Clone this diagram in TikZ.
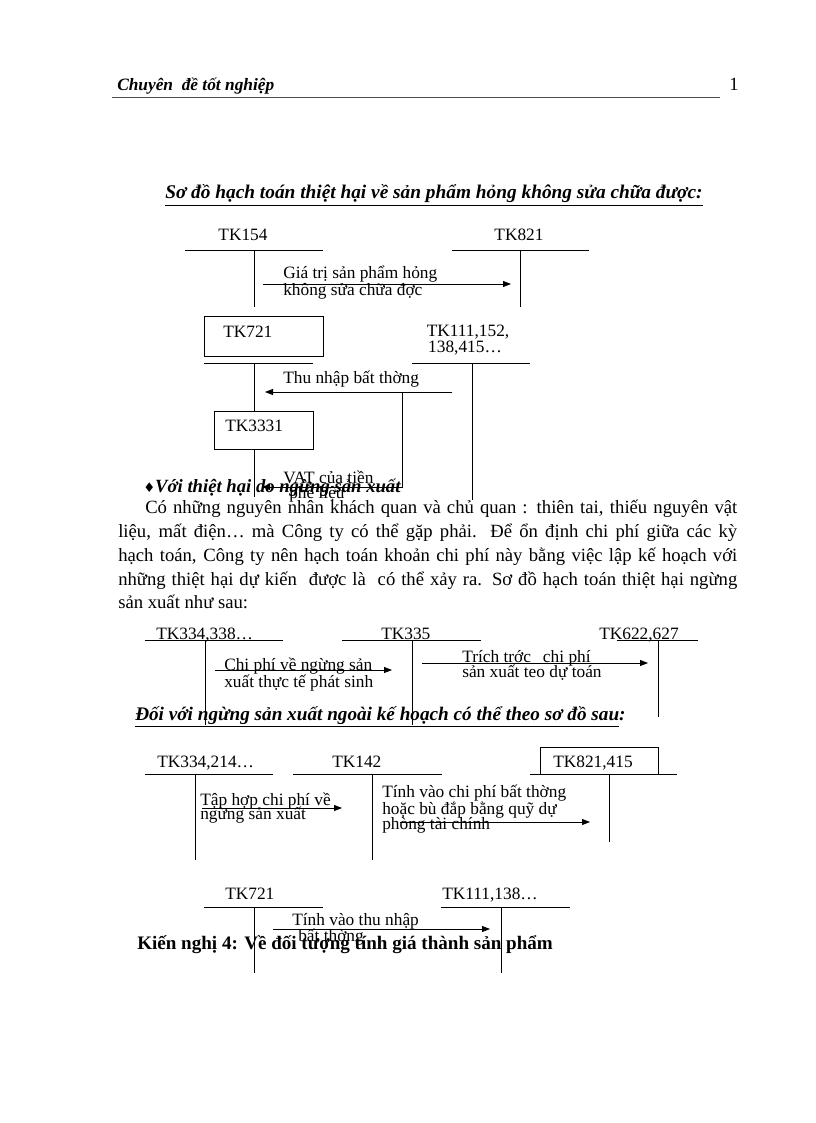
\documentclass[tikz,border=0pt]{standalone}
\usepackage{fontspec}
\setmainfont{Liberation Serif}
\newfontfamily\symfont{DejaVu Sans}
\usetikzlibrary{arrows.meta}
\tikzset{
	tk/.style={anchor=base west, inner sep=0pt, font=\fontsize{13}{13}\selectfont},
	note/.style={anchor=base west, inner sep=0pt, font=\fontsize{13}{13}\selectfont},
	body/.style={anchor=base west, inner sep=0pt, font=\fontsize{14}{18}\selectfont},
	head/.style={anchor=base west, inner sep=0pt, font=\fontsize{14}{18}\selectfont\bfseries\itshape},
	flow/.style={line width=0.6pt, -{Triangle[length=6pt, width=4.5pt]}},
	acc/.style={line width=0.6pt}
}

\begin{document}
\begin{tikzpicture}[x=0.75pt, y=-0.75pt]
			%%%%% START %%%%%
			\fill[white] (0, 0) rectangle (816, 1123);
			\useasboundingbox (0, 0) rectangle (816, 1123);
			
			% header
			\node[head, font=\fontsize{13}{16}\selectfont\bfseries\itshape] (hdr) at (117, 91) {Chuyên\ \ đề tốt nghiệp};
			\node[body, anchor=base east] (pgno) at (739, 91) {1};
			\draw[line width=0.5pt, color=black!70] (112, 97) -- (720, 97);
			
			\node[head, font=\fontsize{14.5}{18}\selectfont\bfseries\itshape] (title1) at (165, 199) {\underline{Sơ đồ hạch toán thiệt hại về sản phẩm hỏng không sửa chữa được:}};
			
			% so do 1
			\node[tk, anchor=base] (tk154) at (243, 240) {TK154};
			\draw[acc] (185, 250) -- (323, 250);
			\draw[acc] (254, 250) -- (254, 307);
			\node[tk, anchor=base] (tk821) at (519, 240) {TK821};
			\draw[acc] (452, 250) -- (589, 250);
			\draw[acc] (520, 250) -- (520, 307);
			\coordinate (hong1) at (263, 284);
			\coordinate (hong2) at (511, 284);
			\draw[flow] (hong1) -- (hong2);
			\node[note] (hongA) at (283, 278) {Giá trị sản phẩm hỏng};
			\node[note] (hongB) at (283, 295) {không sửa chữa đợc};
			
			\draw[acc] (204, 316) rectangle (323, 356);
			\node[tk] (tk721) at (223, 337) {TK721};
			\draw[acc] (204, 363) -- (313, 363);
			\draw[acc] (254, 363) -- (254, 411);
			\draw[acc] (214, 411) rectangle (313, 449);
			\node[tk] (tk3331) at (225, 431) {TK3331};
			\draw[acc] (254, 449) -- (254, 497);
			
			\node[tk, anchor=base] (tk111a) at (468, 336) {TK111,152,};
			\node[tk, anchor=base] (tk111b) at (465, 352) {138,415…};
			\draw[acc] (412, 363) -- (530, 363);
			\draw[acc] (472, 363) -- (472, 500);
			\coordinate (thu1) at (452, 392);
			\coordinate (thu2) at (265, 392);
			\draw[flow] (thu1) -- (thu2);
			\node[note] (thuA) at (283, 383) {Thu nhập bất thờng};
			\coordinate (vat1) at (402, 392);
			\coordinate (vat2) at (402, 487);
			\coordinate (vat3) at (262, 487);
			\draw[flow] (vat1) -- (vat2) -- (vat3);
			\node[note] (vatA) at (283, 483) {VAT của tiền};
			\node[note] (vatB) at (289, 498) {phế liệu};
			
			% doan van
			\node[head] (head2) at (143, 492) {{\symfont\fontsize{10}{10}\selectfont ♦}Với thiệt hại do ngừng sản xuất};
			\node[body] (par1) at (145, 513) {\makebox[444pt][s]{Có những nguyên nhân khách quan và chủ quan : thiên tai, thiếu nguyên vật}};
			\node[body] (par2) at (118, 537) {\makebox[464.25pt][s]{liệu, mất điện… mà Công ty có thể gặp phải. Để ổn định chi phí giữa các kỳ}};
			\node[body] (par3) at (118, 561) {\makebox[464.25pt][s]{hạch toán, Công ty nên hạch toán khoản chi phí này bằng việc lập kế hoạch với}};
			\node[body] (par4) at (118, 585) {\makebox[464.25pt][s]{những thiệt hại dự kiến\ \ được là\ \ có thể xảy ra. Sơ đồ hạch toán thiệt hại ngừng}};
			\node[body] (par5) at (118, 608) {sản xuất như sau:};
			
			% so do 2
			\node[tk] (tk334) at (156, 639) {TK334,338…};
			\draw[acc] (145, 640) -- (283, 640);
			\draw[acc] (205, 640) -- (205, 725);
			\node[tk] (tk335) at (381, 639) {TK335};
			\draw[acc] (342, 640) -- (481, 640);
			\draw[acc] (412, 640) -- (412, 725);
			\node[tk] (tk622) at (599, 639) {TK622,627};
			\draw[acc] (617, 640) -- (698, 640);
			\draw[acc] (658, 640) -- (658, 717);
			\coordinate (ngung1) at (215, 670);
			\coordinate (ngung2) at (392, 670);
			\draw[flow] (ngung1) -- (ngung2);
			\node[note] (ngungA) at (224, 670) {Chi phí về ngừng sản};
			\node[note] (ngungB) at (224, 687) {xuất thực tế phát sinh};
			\coordinate (trich1) at (422, 663);
			\coordinate (trich2) at (648, 663);
			\draw[flow] (trich1) -- (trich2);
			\node[note] (trichA) at (462, 662) {Trích trớc\hspace{9pt}chi phí};
			\node[note] (trichB) at (462, 677) {sản xuất teo dự toán};
			
			\node[head, font=\fontsize{14.4}{18}\selectfont\bfseries\itshape] (head3) at (135, 720) {\underline{Đối với ngừng sản xuất ngoài kế hoạch có thể theo sơ đồ sau}:};
			
			% so do 3
			\node[tk] (tk214) at (157, 767) {TK334,214…};
			\draw[acc] (145, 774) -- (273, 774);
			\draw[acc] (195, 774) -- (195, 860);
			\node[tk] (tk142) at (332, 767) {TK142};
			\draw[acc] (293, 774) -- (442, 774);
			\draw[acc] (372, 774) -- (372, 860);
			\draw[acc] (540, 774) -- (540, 747) -- (658, 747) -- (658, 774);
			\node[tk] (tk415) at (553, 767) {TK821,415};
			\draw[acc] (530, 774) -- (677, 774);
			\draw[acc] (609, 774) -- (609, 842);
			\coordinate (tap1) at (202, 808);
			\coordinate (tap2) at (342, 808);
			\draw[flow] (tap1) -- (tap2);
			\node[note] (tapA) at (200, 805) {Tập hợp chi phí về};
			\node[note] (tapB) at (200, 819) {ngừng sản xuất};
			\coordinate (bu1) at (400, 822);
			\coordinate (bu2) at (590, 822);
			\draw[flow] (bu1) -- (bu2);
			\node[note] (buA) at (382, 797) {Tính vào chi phí bất thờng};
			\node[note] (buB) at (382, 814) {hoặc bù đắp bằng quỹ dự};
			\node[note] (buC) at (382, 829) {phòng tài chính};
			
			% so do 4
			\node[tk] (tk721b) at (225, 899) {TK721};
			\draw[acc] (204, 907) -- (323, 907);
			\draw[acc] (254, 907) -- (254, 973);
			\node[tk] (tk138) at (442, 899) {TK111,138…};
			\draw[acc] (441, 907) -- (570, 907);
			\draw[acc] (501, 907) -- (501, 973);
			\coordinate (tn1) at (273, 929);
			\coordinate (tn2) at (490, 929);
			\draw[flow] (tn1) -- (tn2);
			\node[note] (tnA) at (292, 925) {Tính vào thu nhập};
			\node[note] (tnB) at (298, 941) {bất thờng};
			
			\node[body, font=\fontsize{14.3}{18}\selectfont\bfseries] (kn4) at (137, 949) {Kiến nghị 4: Về đối tượng tính giá thành sản phẩm};
			%%%%% END %%%%%
\end{tikzpicture}
\end{document}
